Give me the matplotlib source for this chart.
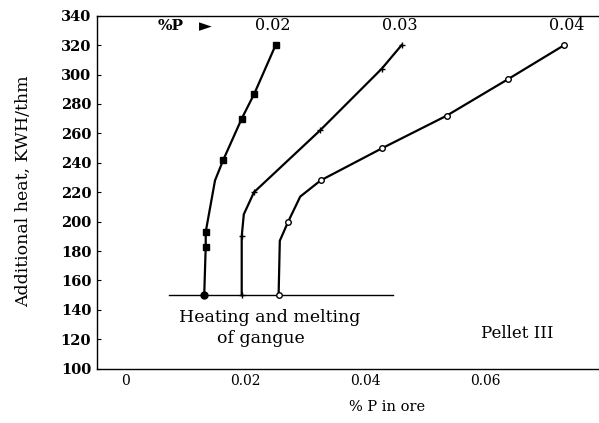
import matplotlib
matplotlib.use("Agg")
import matplotlib.pyplot as plt

# ---- data ----
p02_x = [0.0132, 0.01345, 0.01345, 0.0150, 0.01638, 0.01945, 0.02155, 0.0251]
p02_y = [150, 183, 193, 228, 242, 270, 287, 320]
p02_mx = [0.01345, 0.01345, 0.01638, 0.01945, 0.02155, 0.0251]
p02_my = [183, 193, 242, 270, 287, 320]

p03_x = [0.01945, 0.01945, 0.0198, 0.0215, 0.0325, 0.0428, 0.0461]
p03_y = [150, 190, 205, 220, 262, 304, 320]
p03_mx = [0.01945, 0.01945, 0.0215, 0.0325, 0.0428, 0.0461]
p03_my = [150, 190, 220, 262, 304, 320]

p04_x = [0.0256, 0.0258, 0.0272, 0.0292, 0.0326, 0.0429, 0.0536, 0.0639, 0.0732]
p04_y = [150, 187, 200, 217, 228, 250, 272, 297, 320]
p04_mx = [0.0256, 0.0272, 0.0326, 0.0429, 0.0536, 0.0639, 0.0732]
p04_my = [150, 200, 228, 250, 272, 297, 320]

base_x = [0.0073, 0.0447]
base_y = [150, 150]

pct_labels = ["0.02", "0.03", "0.04"]
x_ticks = [0, 0.02, 0.04, 0.06]
x_ticklabels = ["0", "0.02", "0.04", "0.06"]
y_ticks = list(range(100, 341, 20))

W, H = 599, 423
fig = plt.figure(figsize=(W / 100, H / 100), dpi=100)
ax = fig.add_axes([96.7 / W, 1 - 368.7 / H, 1 - 96.7 / W, (368.7 - 15.7) / H])

serif = ["DejaVu Serif"]

ax.plot(base_x, base_y, color="black", lw=1.0)
ax.plot(p02_x, p02_y, color="black", lw=1.6)
ax.plot(p02_mx, p02_my, ls="none", marker="s", ms=5, color="black")
ax.plot([p02_x[0]], [p02_y[0]], ls="none", marker="o", ms=5, color="black")
ax.plot(p03_x, p03_y, color="black", lw=1.6)
ax.plot(p03_mx, p03_my, ls="none", marker="+", ms=4, mew=1, color="black")
ax.plot(p04_x, p04_y, color="black", lw=1.6)
ax.plot(p04_mx, p04_my, ls="none", marker="o", ms=4, mfc="white", mec="black", mew=1)

ax.set_xlim(-0.00472, 0.079)
ax.set_ylim(100, 340)
ax.set_xticks(x_ticks)
ax.set_xticklabels(x_ticklabels, family=serif, fontsize=10)
ax.set_yticks(y_ticks)
ax.set_yticklabels([str(v) for v in y_ticks], family=serif, fontsize=10.5, fontweight="bold")
ax.tick_params(direction="in", length=3, width=0.8, pad=4)
ax.tick_params(axis="x", length=0)
ax.spines["right"].set_visible(False)
for s in ["left", "top", "bottom"]:
    ax.spines[s].set_linewidth(1.0)

ax.set_xlabel("% P in ore", family=serif, fontsize=10.5)
ax.xaxis.set_label_coords((387 - 96.7) / (W - 96.7), -(400 - 368.7) / 353)
fig.text(23 / W, 1 - 191 / H, "Additional heat, KWH/thm", rotation=90,
         ha="center", va="center", family=serif, fontsize=12.5)

def ft(px, py, s, **kw):
    fig.text(px / W, 1 - py / H, s, ha="center", va="center", family=serif, **kw)

ft(171, 26, "%P", fontsize=11, fontweight="bold")
fig.text(205 / W, 1 - 26 / H, "\u25ba", ha="center", va="center", family=["DejaVu Sans"], fontsize=12)
for px, lab in zip([273, 400, 567], pct_labels):
    ft(px, 26, lab, fontsize=11.5)

ft(270, 317, "Heating and melting", fontsize=12.5)
ft(261, 338, "of gangue", fontsize=12.5)
ft(517, 333, "Pellet III", fontsize=12)

fig.savefig("out.png", dpi=100)
